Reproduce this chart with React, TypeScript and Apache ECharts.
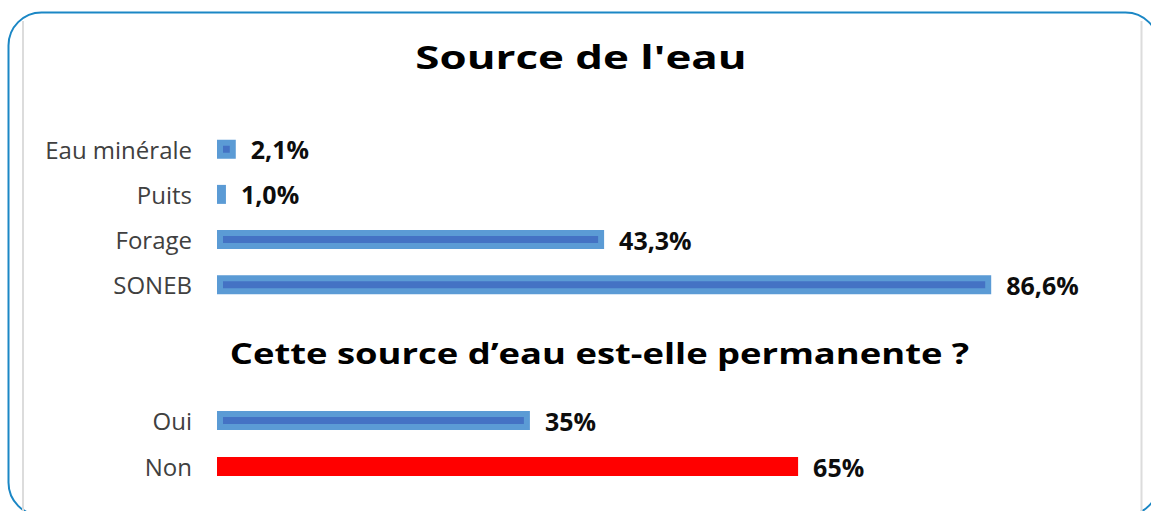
import React, { useEffect, useRef } from "react";
import * as echarts from "echarts";

const sourceCategories = ["Eau minérale", "Puits", "Forage", "SONEB"];
const sourceValues = [2.1, 1.0, 43.3, 86.6];
const sourceLabels = ["2,1%", "1,0%", "43,3%", "86,6%"];

const permCategories = ["Oui", "Non"];
const permValues = [35, 65];
const permLabels = ["35%", "65%"];

const titleSource = "Source de l'eau";
const titlePerm = "Cette source d’eau est-elle permanente ?";

const FONT = "'Open Sans', sans-serif";

export default function App() {
  const ref = useRef<HTMLDivElement>(null);
  useEffect(() => {
    if (!ref.current) return;
    const chart = echarts.init(ref.current, null, { renderer: "svg" });
    const valueLabel = (labels: string[]) => ({
      show: true,
      position: "right",
      distance: 15,
      fontFamily: FONT,
      fontWeight: "bold",
      fontSize: 25,
      color: "#0d0d0d",
      formatter: (p: any) => labels[p.dataIndex],
    });
    const catAxis = (gridIndex: number, data: string[]) => ({
      type: "category",
      gridIndex,
      data,
      inverse: true,
      axisLine: { show: false },
      axisTick: { show: false },
      axisLabel: {
        fontFamily: FONT,
        fontSize: 24,
        color: "#404040",
        margin: 25,
      },
    });
    const valAxis = (gridIndex: number) => ({
      type: "value",
      gridIndex,
      min: 0,
      max: 100,
      show: false,
      splitLine: { show: false },
    });
    chart.setOption({
      animation: false,
      backgroundColor: "#ffffff",
      grid: [
        { left: 217, width: 894, top: 126.7, height: 180.5 },
        { left: 217, width: 894, top: 397.5, height: 92 },
      ],
      xAxis: [valAxis(0), valAxis(1)],
      yAxis: [catAxis(0, sourceCategories), catAxis(1, permCategories)],
      series: [
        {
          type: "bar",
          xAxisIndex: 0,
          yAxisIndex: 0,
          data: sourceValues,
          barWidth: 19,
          itemStyle: { color: "#4472C4", borderColor: "#5B9BD5", borderWidth: 6 },
          label: valueLabel(sourceLabels),
        },
        {
          type: "bar",
          xAxisIndex: 1,
          yAxisIndex: 1,
          data: permValues.map((v, i) =>
            i === 1
              ? { value: v, itemStyle: { color: "#FF0000", borderColor: "#FF0000" } }
              : v
          ),
          barWidth: 19,
          itemStyle: { color: "#4472C4", borderColor: "#5B9BD5", borderWidth: 6 },
          label: valueLabel(permLabels),
        },
      ],
      graphic: [
        {
          type: "rect",
          shape: { x: 8.5, y: 12.5, width: 1150, height: 503, r: 33 },
          style: { fill: "none", stroke: "#1B87C5", lineWidth: 2 },
          silent: true,
        },
        {
          type: "line",
          shape: { x1: 23, y1: 21, x2: 23, y2: 511 },
          style: { stroke: "#dcdcdc", lineWidth: 2 },
          silent: true,
        },
        {
          type: "line",
          shape: { x1: 1141.5, y1: 21, x2: 1141.5, y2: 511 },
          style: { stroke: "#dcdcdc", lineWidth: 2 },
          silent: true,
        },
        {
          type: "text",
          x: 581,
          y: 56,
          scaleX: 1.33,
          style: {
            text: titleSource,
            x: 0,
            y: 0,
            align: "center",
            verticalAlign: "middle",
            fontFamily: FONT,
            fontWeight: "bold",
            fontSize: 33,
            fill: "#000000",
          },
        },
        {
          type: "text",
          x: 599.5,
          y: 353,
          scaleX: 1.255,
          style: {
            text: titlePerm,
            x: 0,
            y: 0,
            align: "center",
            verticalAlign: "middle",
            fontFamily: FONT,
            fontWeight: "bold",
            fontSize: 29,
            fill: "#000000",
          },
        },
      ],
    });
    return () => chart.dispose();
  }, []);
  return (
    <div
      ref={ref}
      style={{ position: "fixed", left: 0, top: 0, width: 1151, height: 511 }}
    />
  );
}
